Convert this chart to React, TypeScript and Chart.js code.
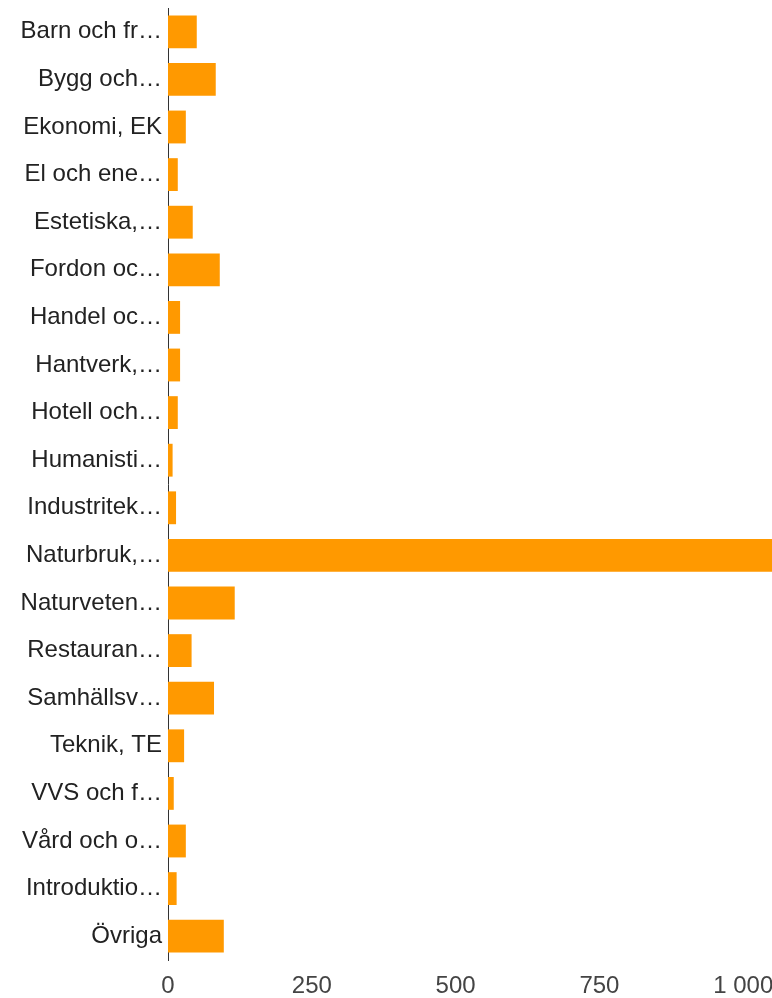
import React, { useEffect, useRef } from "react";
import { Chart, registerables } from "chart.js";

Chart.register(...registerables);

const categories = [
  "Barn och fr…",
  "Bygg och…",
  "Ekonomi, EK",
  "El och ene…",
  "Estetiska,…",
  "Fordon oc…",
  "Handel oc…",
  "Hantverk,…",
  "Hotell och…",
  "Humanisti…",
  "Industritek…",
  "Naturbruk,…",
  "Naturveten…",
  "Restauran…",
  "Samhällsv…",
  "Teknik, TE",
  "VVS och f…",
  "Vård och o…",
  "Introduktio…",
  "Övriga",
];

const values = [50, 83, 31, 17, 43, 90, 21, 21, 17, 8, 14, 1100, 116, 41, 80, 28, 10, 31, 15, 97];

const xTickValues = [0, 250, 500, 750, 1000];
const xMin = 0;
const xMax = 1050;

const formatTick = (v: number) => String(v).replace(/\B(?=(\d{3})+(?!\d))/g, " ");

export default function App() {
  const ref = useRef<HTMLCanvasElement | null>(null);

  useEffect(() => {
    if (!ref.current) return;
    const chart = new Chart(ref.current, {
      type: "bar",
      data: {
        labels: categories,
        datasets: [
          {
            data: values,
            backgroundColor: "#ff9900",
            borderWidth: 0,
            categoryPercentage: 1,
            barPercentage: 0.69,
          },
        ],
      },
      options: {
        indexAxis: "y",
        animation: false,
        responsive: true,
        maintainAspectRatio: false,
        layout: { padding: { top: 8, right: 0, bottom: 0, left: 0 } },
        plugins: {
          legend: { display: false },
          tooltip: { enabled: false },
        },
        scales: {
          x: {
            min: xMin,
            max: xMax,
            grid: { display: false, drawTicks: false },
            border: { display: false },
            afterBuildTicks: (axis: any) => {
              axis.ticks = xTickValues.map((v) => ({ value: v }));
            },
            afterFit: (axis: any) => {
              axis.height = 38;
              axis.paddingLeft = 0;
              axis.paddingRight = 0;
            },
            ticks: {
              color: "#444444",
              font: { family: "'Liberation Sans', Arial, sans-serif", size: 24 },
              padding: 12,
              maxRotation: 0,
              autoSkip: false,
              callback: (v: any) => formatTick(Number(v)),
            },
          },
          y: {
            grid: { display: false, drawTicks: false },
            border: { display: true, color: "#333333", width: 1 },
            afterFit: (axis: any) => {
              axis.width = 168;
              axis.paddingTop = 0;
              axis.paddingBottom = 0;
            },
            ticks: {
              color: "#222222",
              font: { family: "'Liberation Sans', Arial, sans-serif", size: 24 },
              padding: 6,
              autoSkip: false,
            },
          },
        },
      },
    });
    return () => chart.destroy();
  }, []);

  return (
    <div style={{ position: "absolute", left: 0, top: 0, width: 772, height: 998, background: "#fff" }}>
      <canvas ref={ref} />
    </div>
  );
}
